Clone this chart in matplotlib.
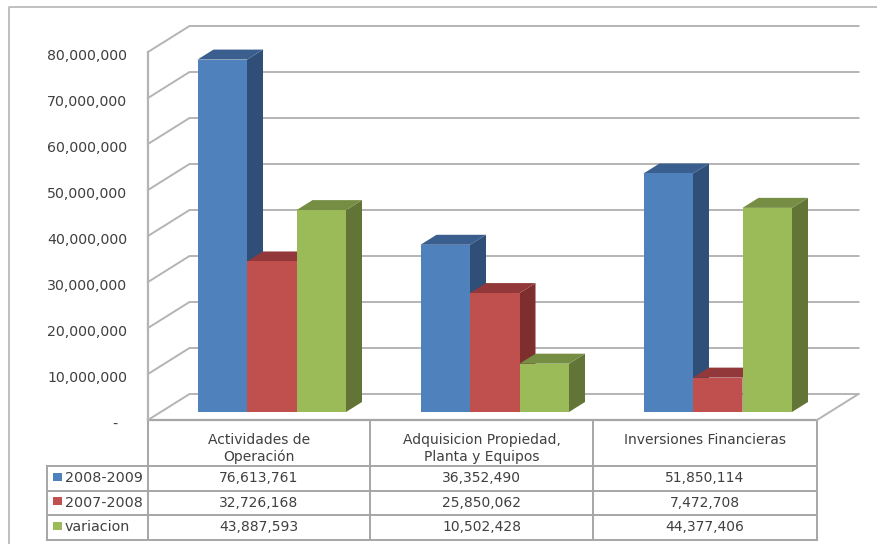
import matplotlib
matplotlib.use("Agg")
import matplotlib.pyplot as plt
from matplotlib.patches import Polygon, Rectangle
from matplotlib.transforms import ScaledTranslation

categories = ["Actividades de\nOperación", "Adquisicion Propiedad,\nPlanta y Equipos", "Inversiones Financieras"]
series_names = ["2008-2009", "2007-2008", "variacion"]
values_0809 = [76613761, 36352490, 51850114]
values_0708 = [32726168, 25850062, 7472708]
values_var = [43887593, 10502428, 44377406]
y_ticks = [0, 10000000, 20000000, 30000000, 40000000, 50000000, 60000000, 70000000, 80000000]

all_values = [values_0809, values_0708, values_var]
# front, side, top
colors = [("#4f81bd", "#2f4f78", "#3a5f8e"),
          ("#c0504d", "#7e2f2d", "#93383a"),
          ("#9bbb59", "#627537", "#758e44")]
grid_c = "#b4b4b4"
table_c = "#a6a6a6"
text_c = "#404040"
W, H = 877, 544

fig = plt.figure(figsize=(W / 100, H / 100), dpi=100, facecolor="white")

# overlay in pixels for frame and table
px = fig.add_axes([0, 0, 1, 1], zorder=1)
px.set_xlim(0, W)
px.set_ylim(H, 0)
px.axis("off")

# main axes = front plane of the 3d box
ax = fig.add_axes([148 / W, 1 - 420 / H, 669 / W, 368 / H], zorder=2)
ax.patch.set_alpha(0)
ax.set_xlim(0, 3)
ax.set_ylim(0, 80000000)
for s in ax.spines.values():
    s.set_visible(False)
ax.set_xticks([])
ax.set_yticks(y_ticks)
ax.set_yticklabels([f"{v:,}" if v else "-  " for v in y_ticks], fontsize=10.2, color=text_c)
ax.tick_params(axis="y", length=0, pad=15)
shift = ScaledTranslation(0, -2 / 72, fig.dpi_scale_trans)
for lab in ax.get_yticklabels():
    lab.set_transform(lab.get_transform() + shift)

ux = 3 / 669        # one pixel in x units
uy = 80000000 / 368  # one pixel in y units


def off(dx, dy):
    return dx * ux, dy * uy


# walls
bx, by = off(41.5, 26)
for v in y_ticks:
    ax.plot([0, bx, 3 + bx], [v, v + by, v + by], color=grid_c, lw=1.4, clip_on=False, zorder=1)
ax.plot([3, 3 + bx], [0, by], color=grid_c, lw=1.4, clip_on=False, zorder=1)
ax.plot([0, 0], [0, 80000000], color=grid_c, lw=1.6, clip_on=False, zorder=1)

# bars
base_x, base_y = off(12.5, 8)
dep_x, dep_y = off(16, 10)
bar_w = 49.5 * ux
start = 37 * ux
for g in range(3):
    for i, vals in enumerate(all_values):
        x0 = g + base_x + start + i * bar_w
        x1 = x0 + bar_w
        y0 = base_y
        y1 = base_y + vals[g]
        front, side, top = colors[i]
        z = 3 + g * 3 + i
        ax.add_patch(Polygon([(x1, y0), (x1 + dep_x, y0 + dep_y), (x1 + dep_x, y1 + dep_y), (x1, y1)],
                             fc=side, ec="none", clip_on=False, zorder=z))
        ax.add_patch(Polygon([(x0, y1), (x0 + dep_x, y1 + dep_y), (x1 + dep_x, y1 + dep_y), (x1, y1)],
                             fc=top, ec="none", clip_on=False, zorder=z))
        ax.add_patch(Rectangle((x0, y0), bar_w, vals[g], fc=front, ec="none", clip_on=False, zorder=z))

# outer frame
px.plot([W, 9, 9, ], [6.5, 6.5, H], color="#b5b5b5", lw=1.2)

# data table
col_x = [148, 370, 593, 817]
row_y = [466, 490.5, 515, 539.5]
for x in col_x:
    px.plot([x, x], [420, 539.5], color=table_c, lw=1.4)
px.plot([148, 817], [420, 420], color=table_c, lw=1.6)
for y in row_y:
    px.plot([47, 817], [y, y], color=table_c, lw=1.4)
px.plot([47, 47], [466, 539.5], color=table_c, lw=1.4)

for c, name in enumerate(categories):
    cx = (col_x[c] + col_x[c + 1]) / 2
    lines = name.split("\n")
    for k, line in enumerate(lines):
        px.text(cx, 440 + k * 17, line, ha="center", va="center", fontsize=10, color=text_c)

text_y = [477.5, 503, 527]
swatch_y = [473, 497, 522]
for r, name in enumerate(series_names):
    px.add_patch(Rectangle((53, swatch_y[r]), 9, 8, fc=colors[r][0], ec="none"))
    px.text(65, text_y[r], name, ha="left", va="center", fontsize=10.3, color=text_c)
    for c in range(3):
        cx = (col_x[c] + col_x[c + 1]) / 2
        px.text(cx, text_y[r], f"{all_values[r][c]:,}", ha="center", va="center", fontsize=10, color=text_c)

fig.savefig("out.png", dpi=100)
